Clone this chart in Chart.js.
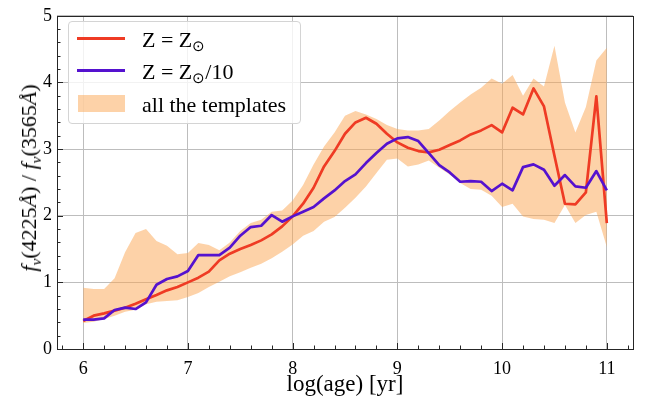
<!DOCTYPE html>
<html>
<head>
<meta charset="utf-8">
<script src="https://cdn.jsdelivr.net/npm/chart.js@4.4.0/dist/chart.umd.min.js"></script>
<style>
    body { margin: 0; background: #fff; }
    #wrap { position: relative; width: 652px; height: 402px; font-family: 'Liberation Serif', 'Times New Roman', serif; color: #000; }
    #legend { position: absolute; left: 68px; top: 21px; width: 233px; height: 103px; box-sizing: border-box;
              background: rgba(255,255,255,0.8); border: 1px solid #d4d4d4; border-radius: 4px; }
    .swatch { position: absolute; }
    .ltext { position: absolute; left: 73px; font-size: 22px; line-height: 22px; white-space: nowrap; }
    .ltext sub { font-size: 0.68em; vertical-align: -0.3em; line-height: 0; }
    #ytitle { position: absolute; left: 29px; top: 178px; font-size: 22px; white-space: nowrap; line-height: 22px;
              transform: translate(-50%, -50%) rotate(-90deg); }
    #ytitle sub { font-size: 0.7em; vertical-align: -0.3em; line-height: 0; }
</style>
</head>
<body>
<div id="wrap">
    <canvas id="ratioChart" width="652" height="402"></canvas>
    <div id="ytitle"><i>f</i><sub><i>ν</i></sub>(4225<i>Å</i>) / <i>f</i><sub><i>ν</i></sub>(3565<i>Å</i>)</div>
    <div id="legend">
        <div class="swatch" style="left:8px; top:15px; width:48px; height:3px; background:#ef3b24;"></div>
        <div class="ltext" style="top:7px;">Z = Z<sub>⊙</sub></div>
        <div class="swatch" style="left:8px; top:47px; width:48px; height:3px; background:#5512cf;"></div>
        <div class="ltext" style="top:39px;">Z = Z<sub>⊙</sub>/10</div>
        <div class="swatch" style="left:9px; top:73px; width:47px; height:17px; background:rgba(251,165,82,0.5);"></div>
        <div class="ltext" style="top:72px;">all the templates</div>
    </div>
</div>
<script>
// log(age) grid of the templates
const ages = [6.0, 6.1, 6.2, 6.3, 6.4, 6.5, 6.6, 6.7, 6.8, 6.9,
              7.0, 7.1, 7.2, 7.3, 7.4, 7.5, 7.6, 7.7, 7.8, 7.9,
              8.0, 8.1, 8.2, 8.3, 8.4, 8.5, 8.6, 8.7, 8.8, 8.9,
              9.0, 9.1, 9.2, 9.3, 9.4, 9.5, 9.6, 9.7, 9.8, 9.9,
              10.0, 10.1, 10.2, 10.3, 10.4, 10.5, 10.6, 10.7, 10.8, 10.9, 11.0];

// Z = Zsun
const solar = [0.42, 0.50, 0.535, 0.575, 0.62, 0.68, 0.745, 0.81, 0.88, 0.93,
               1.00, 1.07, 1.16, 1.33, 1.43, 1.50, 1.56, 1.63, 1.72, 1.84,
               1.99, 2.18, 2.42, 2.74, 2.97, 3.23, 3.40, 3.47, 3.38, 3.23,
               3.10, 3.02, 2.97, 2.95, 2.99, 3.06, 3.13, 3.22, 3.28, 3.36,
               3.25, 3.62, 3.52, 3.91, 3.64, 2.90, 2.18, 2.17, 2.35, 3.79, 1.89];

// Z = Zsun/10
const subSolar = [0.44, 0.44, 0.46, 0.585, 0.62, 0.60, 0.70, 0.965, 1.05, 1.09,
                  1.17, 1.41, 1.41, 1.41, 1.52, 1.70, 1.83, 1.85, 2.01, 1.91,
                  1.99, 2.06, 2.13, 2.26, 2.38, 2.52, 2.62, 2.79, 2.94, 3.08,
                  3.16, 3.18, 3.12, 2.94, 2.76, 2.65, 2.51, 2.52, 2.51, 2.37,
                  2.48, 2.38, 2.73, 2.77, 2.69, 2.45, 2.61, 2.44, 2.42, 2.67, 2.38];

// envelope of all the templates
const bandHigh = [0.92, 0.90, 0.90, 1.06, 1.45, 1.74, 1.80, 1.62, 1.55, 1.42,
                  1.44, 1.59, 1.56, 1.48, 1.60, 1.77, 1.89, 1.94, 2.06, 2.08,
                  2.23, 2.46, 2.77, 3.04, 3.25, 3.50, 3.57, 3.52, 3.45, 3.36,
                  3.30, 3.28, 3.28, 3.30, 3.43, 3.57, 3.70, 3.82, 3.92, 4.06,
                  3.98, 4.11, 3.80, 4.06, 3.94, 4.55, 3.70, 3.25, 3.63, 4.33, 4.52];
const bandLow = [0.39, 0.41, 0.45, 0.50, 0.56, 0.59, 0.67, 0.71, 0.72, 0.73,
                 0.78, 0.84, 0.93, 1.01, 1.09, 1.15, 1.22, 1.28, 1.36, 1.46,
                 1.57, 1.70, 1.77, 1.91, 1.98, 2.12, 2.27, 2.44, 2.64, 2.84,
                 2.86, 2.74, 2.77, 2.83, 2.72, 2.62, 2.49, 2.40, 2.39, 2.30,
                 2.13, 2.18, 1.99, 1.95, 1.94, 1.89, 2.16, 1.89, 2.01, 2.06, 1.53];

const xTicks = [6, 7, 8, 9, 10, 11];
const yTicks = [0, 1, 2, 3, 4, 5];

const colors = {
    solar: '#ef3b24',
    subSolar: '#5512cf',
    band: 'rgba(251, 165, 82, 0.5)',
    grid: '#bdbdbd',
    frame: '#262626'
};
const serif = "'Liberation Serif', 'Times New Roman', serif";

const pts = arr => ages.map((a, i) => ({ x: a, y: arr[i] }));

// matplotlib-like frame with inward major/minor ticks
const frameTicks = {
    id: 'frameTicks',
    afterDraw(chart) {
        const { ctx, chartArea: a, scales: { x, y } } = chart;
        ctx.save();
        ctx.strokeStyle = colors.frame;
        ctx.lineWidth = 1;
        ctx.strokeRect(Math.round(a.left) + 0.5, Math.round(a.top) + 0.5,
                       Math.round(a.right - a.left), Math.round(a.bottom - a.top));
        ctx.beginPath();
        for (let i = 29; i <= 56; i++) {
            const v = i / 5;
            const px = Math.round(x.getPixelForValue(v)) + 0.5;
            const len = (i % 5 === 0) ? 6 : 3.5;
            ctx.moveTo(px, a.bottom);
            ctx.lineTo(px, a.bottom - len);
        }
        for (let i = 1; i < 25; i++) {
            const v = i / 5;
            const py = Math.round(y.getPixelForValue(v)) + 0.5;
            const len = (i % 5 === 0) ? 6 : 3.5;
            ctx.moveTo(a.left, py);
            ctx.lineTo(a.left + len, py);
        }
        ctx.stroke();
        ctx.restore();
    }
};

new Chart(document.getElementById('ratioChart').getContext('2d'), {
    type: 'line',
    data: {
        datasets: [
            { data: pts(subSolar), borderColor: colors.subSolar, borderWidth: 2.7, pointRadius: 0,
              fill: false, tension: 0, borderJoinStyle: 'round', order: 0 },
            { data: pts(solar), borderColor: colors.solar, borderWidth: 2.7, pointRadius: 0,
              fill: false, tension: 0, borderJoinStyle: 'round', order: 1 },
            { data: pts(bandHigh), borderWidth: 0, borderColor: 'rgba(0,0,0,0)', pointRadius: 0,
              backgroundColor: colors.band, fill: '+1', tension: 0, order: 2 },
            { data: pts(bandLow), borderWidth: 0, borderColor: 'rgba(0,0,0,0)', pointRadius: 0,
              fill: false, tension: 0, order: 3 }
        ]
    },
    options: {
        responsive: false,
        animation: false,
        events: [],
        layout: { padding: { left: 0, right: 19, top: 7, bottom: 0 } },
        plugins: { legend: { display: false }, tooltip: { enabled: false } },
        scales: {
            x: {
                type: 'linear', min: 5.75, max: 11.25,
                afterBuildTicks: s => { s.ticks = xTicks.map(v => ({ value: v })); },
                afterFit: s => { s.height = 53; },
                grid: { color: colors.grid, lineWidth: 1, drawTicks: false },
                border: { display: false },
                ticks: { font: { family: serif, size: 18 }, color: '#000', padding: 9, maxRotation: 0 },
                title: { display: true, text: 'log(age) [yr]', font: { family: serif, size: 23 }, color: '#000',
                         padding: { top: 0, bottom: 3 } }
            },
            y: {
                type: 'linear', min: 0, max: 5,
                afterBuildTicks: s => { s.ticks = yTicks.map(v => ({ value: v })); },
                afterFit: s => { s.width = 57; },
                grid: { color: colors.grid, lineWidth: 1, drawTicks: false },
                border: { display: false },
                ticks: { font: { family: serif, size: 18 }, color: '#000', padding: 5 }
            }
        }
    },
    plugins: [frameTicks]
});
</script>
</body>
</html>
